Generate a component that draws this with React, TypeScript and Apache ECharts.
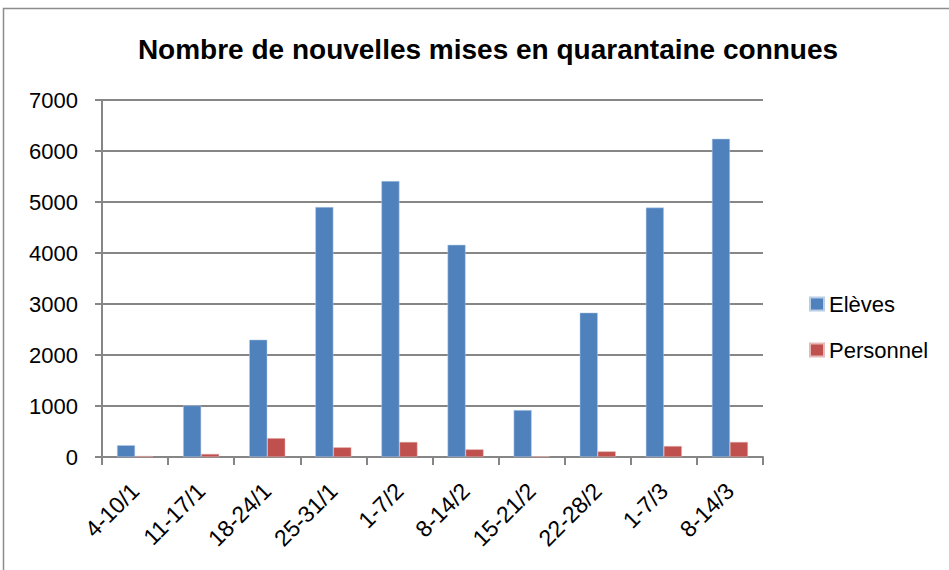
import React, { useEffect, useRef } from "react";
import * as echarts from "echarts";

const categories = ["4-10/1", "11-17/1", "18-24/1", "25-31/1", "1-7/2", "8-14/2", "15-21/2", "22-28/2", "1-7/3", "8-14/3"];
const eleves = [230, 1010, 2300, 4900, 5410, 4160, 920, 2830, 4890, 6240];
const personnel = [20, 60, 370, 190, 295, 150, 15, 110, 215, 295];
const yTicks = { min: 0, max: 7000, interval: 1000 };

const FONT = "Liberation Sans";

export default function App() {
  const ref = useRef<HTMLDivElement>(null);
  useEffect(() => {
    document.body.style.margin = "0";
    const chart = echarts.init(ref.current!, undefined, { renderer: "svg" });
    chart.setOption({
      animation: false,
      backgroundColor: "#ffffff",
      title: {
        text: "Nombre de nouvelles mises en quarantaine connues",
        left: 483,
        textAlign: "center",
        top: 30,
        textStyle: { fontFamily: FONT, fontSize: 28, fontWeight: "bold", color: "#000" },
      },
      graphic: [
        {
          type: "rect",
          shape: { x: 3.5, y: 8.5, width: 960, height: 580 },
          style: { fill: "none", stroke: "#8c8c8c", lineWidth: 1.5 },
          silent: true,
        },
      ],
      legend: {
        orient: "vertical",
        left: 804,
        top: 288,
        itemWidth: 14,
        itemHeight: 13,
        itemGap: 24,
        icon: "rect",
        textStyle: { fontFamily: FONT, fontSize: 22, color: "#000" },
        data: ["Elèves", "Personnel"],
      },
      grid: { left: 102, right: 186, top: 100, bottom: 113, containLabel: false },
      xAxis: {
        type: "category",
        data: categories,
        axisLine: { lineStyle: { color: "#868686", width: 2 } },
        axisTick: { show: true, length: 8, lineStyle: { color: "#868686", width: 2 } },
        axisLabel: {
          rotate: 45,
          interval: 0,
          margin: 30,
          fontFamily: FONT,
          fontSize: 23,
          color: "#000",
        },
      },
      yAxis: {
        type: "value",
        min: yTicks.min,
        max: yTicks.max,
        interval: yTicks.interval,
        axisLine: { show: true, lineStyle: { color: "#868686", width: 2 } },
        axisTick: { show: true, length: 7, lineStyle: { color: "#868686", width: 2 } },
        axisLabel: {
          fontFamily: FONT,
          fontSize: 22,
          color: "#000",
          margin: 24,
          formatter: (v: number) => String(v),
        },
        splitLine: { show: true, lineStyle: { color: "#868686", width: 2 } },
      },
      series: [
        {
          name: "Elèves",
          type: "bar",
          data: eleves,
          barWidth: 18,
          barGap: "0%",
          itemStyle: { color: "#4F81BD", borderColor: "#b9cde5", borderWidth: 0.5 },
        },
        {
          name: "Personnel",
          type: "bar",
          data: personnel,
          barWidth: 18,
          barGap: "0%",
          itemStyle: { color: "#C0504D", borderColor: "#e6b9b8", borderWidth: 0.5 },
        },
      ],
    });
    return () => chart.dispose();
  }, []);
  return <div ref={ref} style={{ width: 949, height: 570 }} />;
}
